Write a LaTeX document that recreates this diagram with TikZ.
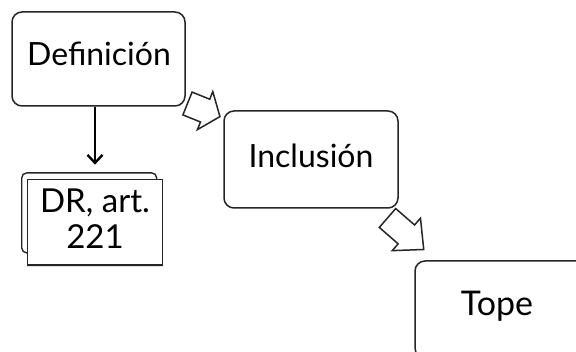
\documentclass[tikz,border=0pt]{standalone}
\usepackage{fontspec}
\setmainfont{Lato}
\usetikzlibrary{arrows.meta,shadows}
\tikzset{
  box/.style={draw=black!85, line width=1.5pt, rounded corners=10pt, fill=white, inner sep=0pt},
  backbox/.style={draw=black!85, line width=1.4pt, rounded corners=5pt, fill=white, inner sep=0pt},
  frontbox/.style={draw=black!85, line width=1.4pt, fill=white, inner sep=0pt,
    drop shadow={shadow xshift=0pt, shadow yshift=-2pt, opacity=0.25}},
  hollow/.style={draw=black!85, line width=1.5pt, fill=white, line join=miter},
  link/.style={line width=2.4pt, -{Straight Barb[length=8pt,width=15pt,line width=2.4pt]}},
  lbl/.style={font=\fontsize{32}{36}\selectfont},
  lblb/.style={font=\fontsize{33}{36}\selectfont, align=center}
}
\begin{document}
\begin{tikzpicture}[x=1pt,y=-1pt]
\useasboundingbox (0,0) rectangle (576,352);
\clip (0,0) rectangle (576,352);
\fill[white] (0,0) rectangle (576,352);
\node[box, minimum width=173pt, minimum height=94pt] (def) at (98.5,59) {};
\node[lbl] (deft) at (99,54) {Definición};
\node[box, minimum width=174pt, minimum height=97pt] (inc) at (311,159.5) {};
\node[lbl] (inct) at (311,156) {Inclusión};
\node[box, minimum width=174pt, minimum height=97pt] (tope) at (502,309.5) {};
\node[lbl, font=\fontsize{34}{36}\selectfont] (topet) at (497,306) {Tope};
\node[backbox, minimum width=135pt, minimum height=80pt] (back) at (89.2,212.9) {};
\node[frontbox, minimum width=135.4pt, minimum height=85.7pt] (front) at (95,222.2) {};
\node[lblb] (frontt) at (95,219) {DR, art.\\221};
\draw[link, shorten >=14pt] (def.south -| front.north) -- (front.north);
% hollow block arrows
\begin{scope}[shift={(187.5,103.5)}, rotate=-22]
  \draw[hollow] (0,-12.3) -- (19,-12.3) -- (19,-20.5) -- (35,0) -- (19,20.5) -- (19,12.3) -- (0,12.3) -- cycle;
\end{scope}
\begin{scope}[shift={(387.5,218)}, rotate=-41]
  \draw[hollow] (0,-12.5) -- (25,-12.5) -- (25,-21.5) -- (48,0) -- (25,21.5) -- (25,12.5) -- (0,12.5) -- cycle;
\end{scope}
\end{tikzpicture}
\end{document}
